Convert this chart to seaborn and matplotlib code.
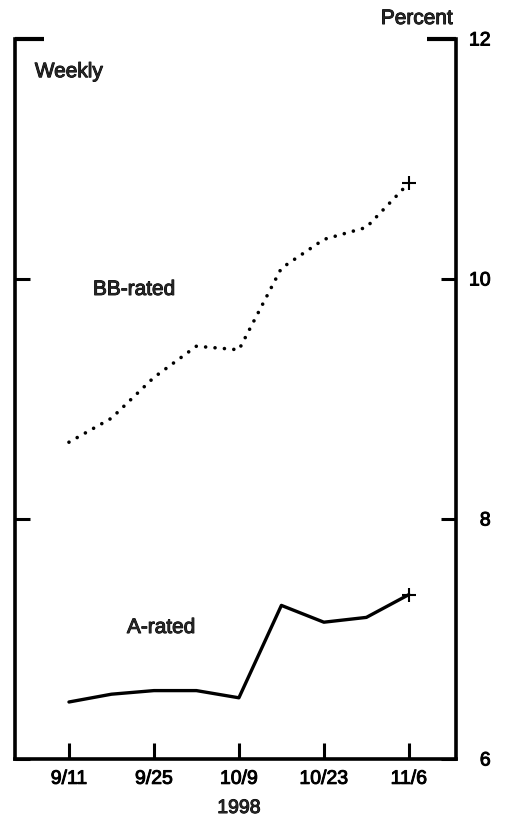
import numpy as np
import pandas as pd
import matplotlib
matplotlib.use("Agg")
import matplotlib.pyplot as plt
import matplotlib.patheffects as pe
import seaborn as sns

# Données hebdomadaires (taux en pourcentage)
weeks = ["9/11", "9/18", "9/25", "10/2", "10/9", "10/16", "10/23", "10/30", "11/6"]
bb_rated = [8.64, 8.84, 9.18, 9.44, 9.41, 10.09, 10.33, 10.43, 10.80]
a_rated = [6.475, 6.54, 6.57, 6.57, 6.51, 7.28, 7.14, 7.18, 7.37]
tick_weeks = ["9/11", "9/25", "10/9", "10/23", "11/6"]
y_ticks = [6, 8, 10, 12]

sns.set_style("white")
plt.rcParams["font.family"] = ["Liberation Sans", "DejaVu Sans"]

# trait un peu plus épais pour imiter le document scanné
heavy = [pe.withStroke(linewidth=0.7, foreground="black")]

df = pd.DataFrame({"week": np.arange(len(weeks)), "label": weeks,
                   "BB": bb_rated, "A": a_rated})

fig = plt.figure(figsize=(5.07, 8.21), dpi=100)
ax = fig.add_axes([15 / 507, 62 / 821, 441 / 507, 720 / 821])

sns.lineplot(data=df, x="week", y="BB", ax=ax, color="black", lw=2.6,
             linestyle=(0, (0.01, 2.6)), dash_capstyle="round")
sns.lineplot(data=df, x="week", y="A", ax=ax, color="black", lw=2.4)

# croix au dernier point
last = df.iloc[-1]
ax.plot(last["week"], last["BB"], marker="+", ms=10, mew=1.5, color="black")
ax.plot(last["week"], last["A"], marker="+", ms=10, mew=1.5, color="black")

ax.set_xlim(-1.27, 9.11)
ax.set_ylim(6, 12)
tick_pos = [weeks.index(w) for w in tick_weeks]
ax.set_xticks(tick_pos)
ax.set_xticklabels(tick_weeks)
ax.set_yticks(y_ticks)
ax.set_yticklabels([str(v) for v in y_ticks])
ax.set_xlabel("")
ax.set_ylabel("")

for side in ["left", "right", "bottom"]:
    ax.spines[side].set_visible(True)
    ax.spines[side].set_linewidth(2.6)
    ax.spines[side].set_color("black")
ax.spines["top"].set_visible(False)

ax.tick_params(axis="x", which="major", direction="in", bottom=True, top=False,
               length=11.5, width=2.2, pad=8.5, labelsize=14, colors="black")
ax.tick_params(axis="y", which="major", direction="in", left=True, right=True,
               labelleft=False, labelright=True, length=10.5, width=2.2,
               pad=25, labelsize=14, colors="black")
for lab in ax.get_yticklabels():
    lab.set_horizontalalignment("right")
    lab.set_path_effects(heavy)
for lab in ax.get_xticklabels():
    lab.set_path_effects(heavy)

# les traits du haut (12) plus longs
top_tick = ax.yaxis.get_major_ticks()[-1]
top_tick.tick1line.set_markersize(21)
top_tick.tick2line.set_markersize(21)
top_tick.tick1line.set_markeredgewidth(3)
top_tick.tick2line.set_markeredgewidth(3)

ax.text(0.045, 0.947, "Weekly", transform=ax.transAxes, fontsize=15,
        ha="left", va="baseline", path_effects=heavy)
ax.text(0.565, 9.867, "BB-rated", fontsize=15, ha="left", va="baseline",
        path_effects=heavy)
ax.text(1.365, 7.05, "A-rated", fontsize=15, ha="left", va="baseline",
        path_effects=heavy)
ax.text(4, -0.075, "1998", transform=ax.get_xaxis_transform(), fontsize=14,
        ha="center", va="baseline", path_effects=heavy)
fig.text(453 / 507, 1 - 24 / 821, "Percent", fontsize=15, ha="right",
         va="baseline", path_effects=heavy)

fig.savefig("out.png", dpi=100)
